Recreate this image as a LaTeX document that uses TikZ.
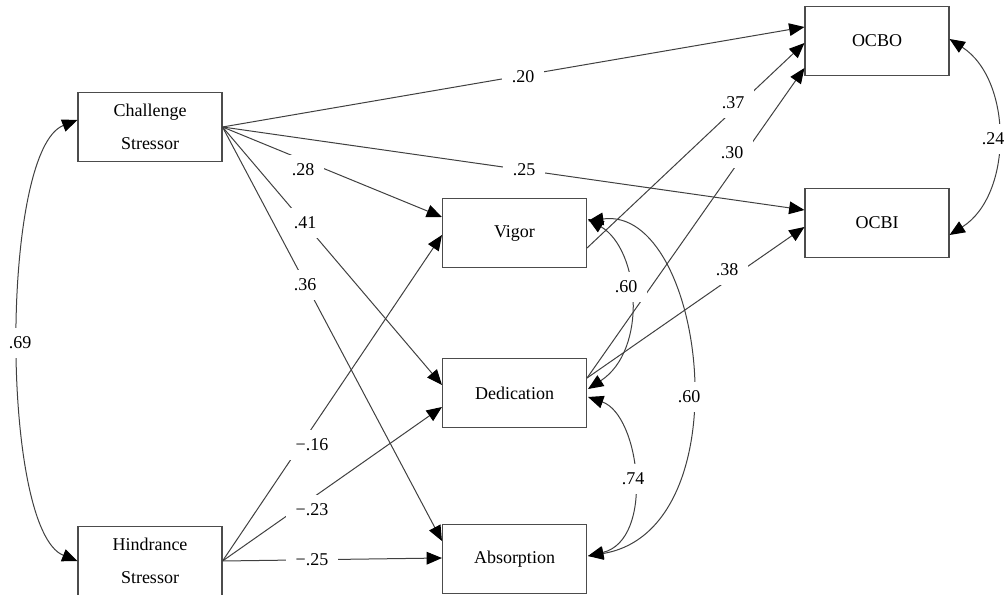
\documentclass[tikz,border=0pt]{standalone}
\usepackage{fontspec}
\setmainfont{Liberation Serif}
\usetikzlibrary{arrows.meta, calc}

\tikzset{
  latent/.style={draw=black!70, line width=0.8pt, minimum width=108pt, minimum height=51.75pt,
    inner sep=0pt, align=center, font=\fontsize{13.5}{24.75}\selectfont},
  tip/.tip={Triangle[length=11.5pt,width=9.5pt,black]},
  reg/.style={draw=black!75, line width=0.75pt, -tip},
  cov/.style={draw=black!75, line width=0.75pt, tip-tip},
  coef/.style={fill=white, inner xsep=7pt, inner ysep=6.5pt, font=\fontsize{13.5}{16}\selectfont}
}

\begin{document}
\begin{tikzpicture}[x=0.75pt, y=-0.75pt]

    \useasboundingbox (0,0) rectangle (1007,595);

    % variables
    \node[latent] (chal) at (150,127) {Challenge\\Stressor};
    \node[latent] (hind) at (150,561) {Hindrance\\Stressor};
    \node[latent] (vigor) at (514.5,233) {Vigor};
    \node[latent] (dedic) at (514.5,393) {Dedication};
    \node[latent] (absorb) at (514.5,559) {Absorption};
    \node[latent] (ocbo) at (877,41) {OCBO};
    \node[latent] (ocbi) at (877,223) {OCBI};

    % paths
    \draw[reg] (chal.east) -- ($(ocbo.west)+(0,-14)$);
    \draw[reg] (chal.east) -- ($(ocbi.west)+(0,-13)$);
    \draw[reg] (chal.east) -- ($(vigor.west)+(0,-16)$);
    \draw[reg] (chal.east) -- ($(dedic.west)+(0,-8)$);
    \draw[reg] (chal.east) -- ($(absorb.west)+(0,-18)$);
    \draw[reg] (hind.east) -- ($(vigor.west)+(0,2)$);
    \draw[reg] (hind.east) -- ($(dedic.west)+(0,14)$);
    \draw[reg] (hind.east) -- ($(absorb.west)+(0,-1)$);
    \draw[reg] ($(vigor.east)+(0,15)$) -- ($(ocbo.west)+(0,2)$);
    \draw[reg] ($(dedic.east)+(0,-15)$) -- ($(ocbo.west)+(0,27)$);
    \draw[reg] ($(dedic.east)+(0,-15)$) -- ($(ocbi.west)+(0,4)$);

    % covariances
    \draw[cov] ($(chal.west)+(0,-7)$) .. controls (0,150) and (0,530) .. (hind.west);
    \draw[cov] ($(ocbo.east)+(0,-2)$) .. controls (1013,80) and (1013,195) .. ($(ocbi.east)+(0,12)$);
    \draw[cov] ($(vigor.east)+(1,-14)$) .. controls (640,250) and (648,350) .. ($(dedic.east)+(1,-4)$);
    \draw[cov] ($(vigor.east)+(1,-12)$) .. controls (705,205) and (745,530) .. ($(absorb.east)+(1,-3)$);
    \draw[cov] ($(dedic.east)+(1,4)$) .. controls (640,415) and (655,540) .. ($(absorb.east)+(1,-3)$);

    % estimates
    \node[coef] at (523,77) {.20};
    \node[coef] at (524,170) {.25};
    \node[coef] at (303,170) {.28};
    \node[coef] at (305,223) {.41};
    \node[coef] at (305,285) {.36};
    \node[coef] at (312,445) {−.16};
    \node[coef] at (312,510) {−.23};
    \node[coef] at (312,560) {−.25};
    \node[coef] at (733,103) {.37};
    \node[coef] at (732,153) {.30};
    \node[coef] at (727,270) {.38};
    \node[coef] at (626,287) {.60};
    \node[coef] at (689,397) {.60};
    \node[coef] at (633,479) {.74};
    \node[coef] at (993,139) {.24};
    \node[coef] at (20,343) {.69};

\end{tikzpicture}
\end{document}
